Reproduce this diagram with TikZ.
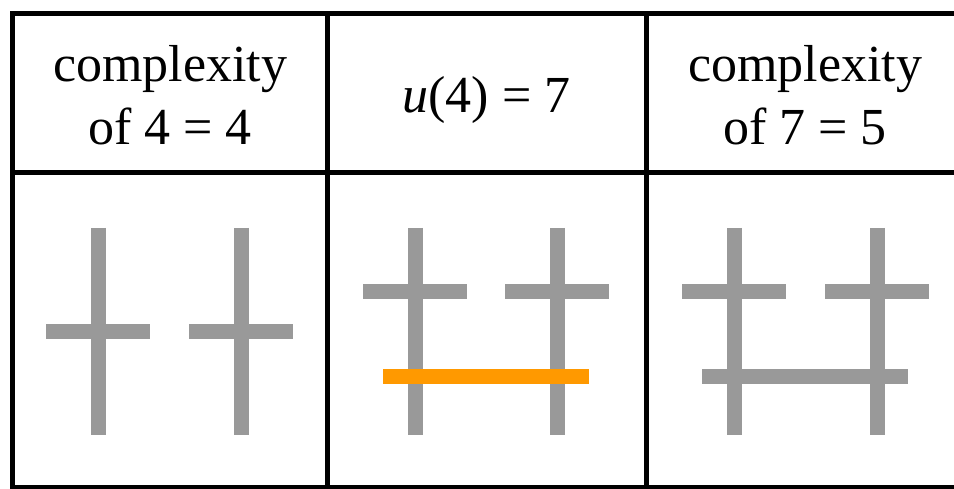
\documentclass[tikz,border=0pt]{standalone}
\usepackage{fontspec}
\setmainfont{Liberation Serif}
\definecolor{rodgrey}{HTML}{999999}
\definecolor{linkorange}{HTML}{FF9900}
\tikzset{
  rod/.style={line width=15pt, rodgrey},
  link/.style={line width=15pt, linkorange},
  rule/.style={line width=5pt, black},
  head/.style={font=\fontsize{52}{63}\selectfont, align=center, inner sep=0pt},
}
\begin{document}
\begin{tikzpicture}[x=1pt, y=-1pt]
  \useasboundingbox (0,0) rectangle (954,489);
  \draw[rule] (954,14) -- (12.5,14) -- (12.5,487) -- (954,487);
  \draw[rule] (12.5,173) -- (954,173);
  \draw[rule] (327,14) -- (327,487);
  \draw[rule] (646,14) -- (646,487);
  \node[head] (cplxfour) at (170,95.5) {complexity\\of 4 = 4};
  \node[head, anchor=base] (ufour) at (486.5,113) {\textit{u}(4) = 7};
  \node[head] (cplxseven) at (805,95.5) {complexity\\of 7 = 5};
  \foreach \x in {98,241,415,557,734,877}
    \draw[rod] (\x,228) -- (\x,435);
  \foreach \x/\y in {98/332,241/332,415/292,557/292,734/292,877/292}
    \draw[rod] (\x-52,\y) -- (\x+52,\y);
  \draw[link] (383,376) -- (589,376);
  \draw[rod] (702,376) -- (908,376);
\end{tikzpicture}
\end{document}
